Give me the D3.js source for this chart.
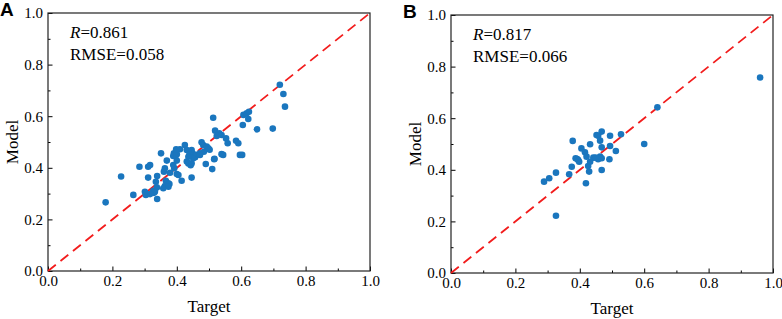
<!DOCTYPE html>
<html>
<head>
<meta charset="utf-8">
<script src="https://cdn.jsdelivr.net/npm/d3@7"></script>
<style>
  body { margin: 0; background: #fff; }
  text { font-family: "Liberation Serif", "Times New Roman", serif; fill: #000; }
</style>
</head>
<body>
<svg id="chart" width="782" height="319"></svg>
<script>
// Panel A: target vs model values
const targetA = [0.179,0.227,0.265,0.284,0.304,0.311,0.317,0.311,0.327,0.329,0.338,0.339,0.339,0.351,0.363,0.360,0.369,0.366,0.374,0.363,0.377,0.379,0.392,0.391,0.398,0.389,0.400,0.400,0.405,0.415,0.410,0.425,0.431,0.431,0.436,0.443,0.446,0.449,0.439,0.446,0.457,0.462,0.472,0.484,0.477,0.482,0.493,0.498,0.490,0.510,0.517,0.513,0.519,0.532,0.524,0.539,0.539,0.544,0.553,0.558,0.584,0.591,0.603,0.605,0.607,0.617,0.624,0.622,0.649,0.698,0.720,0.731,0.736,0.400,0.451,0.436,0.446,0.389,0.335,0.332,0.317,0.301,0.358,0.374,0.472,0.516,0.596,0.398,0.502];
const modelA  = [0.266,0.366,0.295,0.404,0.295,0.404,0.411,0.362,0.311,0.303,0.324,0.279,0.368,0.456,0.398,0.385,0.428,0.350,0.340,0.329,0.337,0.381,0.398,0.456,0.450,0.446,0.428,0.376,0.372,0.350,0.472,0.488,0.469,0.424,0.417,0.410,0.469,0.456,0.450,0.362,0.441,0.450,0.456,0.462,0.499,0.488,0.482,0.476,0.415,0.395,0.435,0.594,0.544,0.534,0.523,0.527,0.453,0.450,0.514,0.495,0.505,0.495,0.450,0.566,0.605,0.611,0.617,0.589,0.549,0.552,0.722,0.686,0.637,0.453,0.437,0.443,0.417,0.411,0.346,0.307,0.298,0.307,0.321,0.327,0.450,0.433,0.450,0.472,0.470];

// Panel B: target vs model values
const targetB = [0.289,0.305,0.326,0.326,0.367,0.375,0.378,0.392,0.398,0.395,0.405,0.416,0.421,0.419,0.426,0.429,0.432,0.442,0.452,0.457,0.463,0.468,0.468,0.457,0.463,0.468,0.468,0.494,0.494,0.492,0.512,0.528,0.600,0.641,0.960,0.432,0.387,0.449];
const modelB  = [0.354,0.367,0.389,0.222,0.383,0.412,0.512,0.442,0.431,0.438,0.483,0.468,0.451,0.348,0.415,0.393,0.499,0.447,0.535,0.532,0.513,0.548,0.487,0.441,0.451,0.445,0.399,0.532,0.492,0.441,0.473,0.538,0.500,0.642,0.758,0.431,0.445,0.447];

const majorTicks = [0, 0.2, 0.4, 0.6, 0.8, 1.0];
const minorTicks = [0.1, 0.3, 0.5, 0.7, 0.9];
const panelLetters = ["A", "B"];
const rValues = ["0.861", "0.817"];
const rmseValues = ["0.058", "0.066"];

const svg = d3.select("#chart");
const fmt = d3.format(".1f");

function drawPanel(idx, left, top, w, h, xs, ys) {
    const g = svg.append("g").attr("transform", `translate(${left}, ${top})`);
    const x = d3.scaleLinear().domain([0, 1]).range([0, w]);
    const y = d3.scaleLinear().domain([0, 1]).range([h, 0]);

    // minor ticks
    g.append("g")
        .attr("transform", `translate(0, ${h})`)
        .call(d3.axisBottom(x).tickValues(minorTicks).tickSize(-2.5).tickFormat(""))
        .call(a => a.select(".domain").remove());
    g.append("g")
        .call(d3.axisLeft(y).tickValues(minorTicks).tickSize(-2.5).tickFormat(""))
        .call(a => a.select(".domain").remove());

    // major ticks + labels
    const xa = g.append("g")
        .attr("transform", `translate(0, ${h})`)
        .call(d3.axisBottom(x).tickValues(majorTicks).tickSize(-4.5).tickPadding(4).tickFormat(fmt));
    xa.select(".domain").remove();
    xa.selectAll("text").style("font-size", "15px");

    const ya = g.append("g")
        .call(d3.axisLeft(y).tickValues(majorTicks).tickSize(-4.5).tickPadding(5).tickFormat(fmt));
    ya.select(".domain").remove();
    ya.selectAll("text").style("font-size", "15px");

    g.selectAll(".tick line").attr("stroke", "#000").attr("stroke-width", 1);

    // frame
    g.append("rect")
        .attr("x", 0).attr("y", 0)
        .attr("width", w).attr("height", h)
        .attr("fill", "none")
        .attr("stroke", "#222")
        .attr("stroke-width", 1.2);

    // 1:1 line
    g.append("line")
        .attr("x1", x(0)).attr("y1", y(0))
        .attr("x2", x(1)).attr("y2", y(1))
        .attr("stroke", "#f21c1c")
        .attr("stroke-width", 1.8)
        .attr("stroke-dasharray", "10,6");

    // points
    g.selectAll("circle")
        .data(xs.map((v, i) => [v, ys[i]]))
        .enter()
        .append("circle")
        .attr("cx", d => x(d[0]))
        .attr("cy", d => y(d[1]))
        .attr("r", 3.3)
        .attr("fill", "#1a76be");

    // stats text
    const t1 = g.append("text").attr("x", 22).attr("y", 25).style("font-size", "17px");
    t1.append("tspan").style("font-style", "italic").text("R");
    t1.append("tspan").text("=" + rValues[idx]);
    g.append("text").attr("x", 22).attr("y", 47).style("font-size", "17px")
        .text("RMSE=" + rmseValues[idx]);

    // axis titles
    g.append("text")
        .attr("x", w / 2).attr("y", h + 41)
        .attr("text-anchor", "middle")
        .style("font-size", "17px")
        .text("Target");
    g.append("text")
        .attr("transform", `translate(${-30}, ${h / 2}) rotate(-90)`)
        .attr("text-anchor", "middle")
        .style("font-size", "17px")
        .text("Model");

    // panel letter
    svg.append("text")
        .attr("x", left - 48)
        .attr("y", top + 3)
        .style("font-family", "'Liberation Sans', Arial, sans-serif")
        .style("font-weight", "bold")
        .style("font-size", "19px")
        .text(panelLetters[idx]);
}

drawPanel(0, 48, 13, 322, 258, targetA, modelA);
drawPanel(1, 451, 15, 322, 258, targetB, modelB);
</script>
</body>
</html>
